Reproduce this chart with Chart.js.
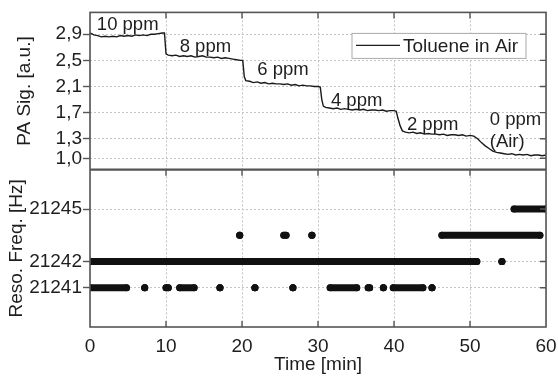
<!DOCTYPE html>
<html>
<head>
<meta charset="utf-8">
<script src="https://cdn.jsdelivr.net/npm/chart.js@4"></script>
<style>
  html, body { margin: 0; padding: 0; background: #fff; }
  #wrap { width: 558px; height: 379px; }
</style>
</head>
<body>
<div id="wrap"><canvas id="chart" width="558" height="379"></canvas></div>
<script>
// PA signal, top panel
const paTime = [
    0, 0.5, 1, 1.5, 2, 2.5, 3, 3.5, 4, 4.5, 5, 5.5, 6, 6.5, 7, 7.5, 8, 8.5, 9, 9.5, 9.8,
    10.0, 10.3, 10.8, 11.3, 11.8, 12.3, 12.8, 13.3, 13.8, 14.3, 14.8, 15.3, 15.8, 16.3, 16.8,
    17.3, 17.8, 18.3, 18.8, 19.3, 19.8, 20.1,
    20.3, 20.5, 21, 21.5, 22, 22.5, 23, 23.5, 24, 24.5, 25, 25.5, 26, 26.5, 27, 27.5, 28,
    28.5, 29, 29.5, 30, 30.3,
    30.5, 30.7, 31, 31.5, 32, 32.5, 33, 33.5, 34, 34.5, 35, 35.5, 36, 36.5, 37, 37.5, 38,
    38.5, 39, 39.5, 40, 40.3,
    40.5, 40.8, 41.1, 41.5, 42, 42.5, 43, 43.5, 44, 44.5, 45, 45.5, 46, 46.5, 47, 47.5, 48,
    48.5, 49, 49.5, 50, 50.5,
    51, 51.5, 52, 52.5, 53, 53.5, 54, 54.5, 55, 55.5, 56, 56.5, 57, 57.5, 58, 58.5, 59, 59.5, 60
];
const paSignal = [
    2.92, 2.89, 2.88, 2.86, 2.87, 2.86, 2.87, 2.86, 2.88, 2.87, 2.88, 2.87, 2.89, 2.88, 2.89, 2.88, 2.90, 2.90, 2.91, 2.92, 2.92,
    2.60, 2.58, 2.57, 2.58, 2.56, 2.57, 2.56, 2.57, 2.55, 2.56, 2.57, 2.55, 2.55, 2.54, 2.55,
    2.53, 2.54, 2.53, 2.52, 2.51, 2.50, 2.50,
    2.25, 2.19, 2.18, 2.16, 2.17, 2.15, 2.16, 2.14, 2.15, 2.14, 2.14, 2.13, 2.14, 2.12, 2.13, 2.11, 2.12,
    2.11, 2.11, 2.10, 2.10, 2.09,
    1.90, 1.80, 1.78, 1.77, 1.76, 1.77, 1.75, 1.76, 1.75, 1.74, 1.75, 1.74, 1.75, 1.73, 1.74, 1.74, 1.73,
    1.74, 1.72, 1.73, 1.73, 1.72,
    1.62, 1.50, 1.42, 1.40, 1.39, 1.40, 1.38, 1.39, 1.37, 1.38, 1.37, 1.37, 1.36, 1.37, 1.35, 1.36, 1.36,
    1.35, 1.36, 1.34, 1.35, 1.34,
    1.30, 1.24, 1.19, 1.15, 1.11, 1.09, 1.08, 1.07, 1.06, 1.07, 1.05, 1.06, 1.05, 1.06, 1.04, 1.05, 1.05, 1.04, 1.05
];
const paTicks = [1.0, 1.3, 1.7, 2.1, 2.5, 2.9];

// Resonance frequency, bottom panel (runs of dots as [from, to] in min)
const freqRows = [' ', '21245', '21243', '21242', '21241', '  '];
const freqShown = ['21245', '21242', '21241'];
const runs21245 = [[55.8, 60]];
const runs21243 = [[19.7, 19.7], [25.5, 25.8], [29.2, 29.2], [46.3, 59.2]];
const runs21242 = [[0, 50.9], [54.2, 54.2]];
const runs21241 = [[0, 4.8], [7.2, 7.2], [10.0, 10.3], [11.8, 13.7], [17.1, 17.1], [21.7, 21.7],
    [26.7, 26.7], [31.6, 35.1], [36.6, 36.8], [38.6, 38.6], [39.9, 43.8], [45.0, 45.0]];

const timeTicks = [0, 10, 20, 30, 40, 50, 60];

// concentration labels inside the top panel
const stepLabels = ['10 ppm', '8 ppm', '6 ppm', '4 ppm', '2 ppm', '0 ppm', '(Air)'];
const stepLabelTime = [0.9, 11.8, 22.0, 31.7, 41.7, 52.6, 52.6];
const stepLabelValue = [2.969, 2.633, 2.282, 1.808, 1.427, 1.503, 1.167];

const FONT = '"Liberation Sans", Arial, sans-serif';
const INK = '#1e1e1e';
const FRAME = '#555';

function runPoints(runs, row) {
    const pts = [];
    runs.forEach(r => {
        pts.push({ x: r[0], y: row }, { x: r[1], y: row }, { x: r[1], y: null });
    });
    return pts;
}

function freqDataset(runs, row) {
    return {
        data: runPoints(runs, row),
        yAxisID: 'yF',
        borderColor: '#111',
        borderWidth: 7,
        borderCapStyle: 'round',
        pointRadius: 3.5,
        pointBorderWidth: 0,
        pointBackgroundColor: '#111',
        spanGaps: false
    };
}

const framePlugin = {
    id: 'frame',
    afterDraw(chart) {
        const { ctx, chartArea: a, scales } = chart;
        const top = scales.yPA, bot = scales.yF, x = scales.x;
        const split = top.bottom;
        ctx.save();
        ctx.strokeStyle = FRAME;
        ctx.lineWidth = 1.6;
        ctx.strokeRect(a.left, a.top, a.right - a.left, a.bottom - a.top);
        ctx.lineWidth = 2.2;
        ctx.beginPath();
        ctx.moveTo(a.left, split);
        ctx.lineTo(a.right, split);
        ctx.stroke();

        // inward tick marks
        ctx.lineWidth = 1.4;
        ctx.beginPath();
        timeTicks.forEach(t => {
            const px = x.getPixelForValue(t);
            if (t === 0 || t === 60) return;
            ctx.moveTo(px, a.top); ctx.lineTo(px, a.top + 6);
            ctx.moveTo(px, split); ctx.lineTo(px, split + 6);
            ctx.moveTo(px, a.bottom); ctx.lineTo(px, a.bottom - 6);
        });
        paTicks.forEach(v => {
            const py = top.getPixelForValue(v);
            ctx.moveTo(a.right, py); ctx.lineTo(a.right - 6, py);
        });
        freqShown.forEach(l => {
            const py = bot.getPixelForValue(freqRows.indexOf(l));
            ctx.moveTo(a.right, py); ctx.lineTo(a.right - 6, py);
        });
        ctx.stroke();

        // legend box
        const lx = a.right - 194, ly = a.top + 21;
        ctx.fillStyle = '#fff';
        ctx.fillRect(lx, ly, 174, 25);
        ctx.strokeStyle = '#aaa';
        ctx.lineWidth = 1;
        ctx.strokeRect(lx, ly, 174, 25);
        ctx.strokeStyle = INK;
        ctx.lineWidth = 1.4;
        ctx.beginPath();
        ctx.moveTo(lx + 4, ly + 12); ctx.lineTo(lx + 48, ly + 12);
        ctx.stroke();
        ctx.fillStyle = INK;
        ctx.font = '19px ' + FONT;
        ctx.textBaseline = 'middle';
        ctx.textAlign = 'left';
        ctx.fillText('Toluene in Air', lx + 51, ly + 13);

        // concentration labels
        ctx.font = '18.5px ' + FONT;
        ctx.textBaseline = 'alphabetic';
        stepLabels.forEach((s, i) => {
            ctx.fillText(s, x.getPixelForValue(stepLabelTime[i]), top.getPixelForValue(stepLabelValue[i]));
        });
        ctx.restore();
    }
};

const leftTicks = {
    color: '#c4c4c4',
    drawTicks: true,
    tickLength: 7,
    tickColor: FRAME,
    tickWidth: 1.4,
    tickBorderDash: []
};

const font19 = { family: FONT, size: 19 };

new Chart(document.getElementById('chart'), {
    type: 'line',
    data: {
        datasets: [
            {
                data: paTime.map((t, i) => ({ x: t, y: paSignal[i] })),
                yAxisID: 'yPA',
                borderColor: '#1a1a1a',
                borderWidth: 1.4,
                pointRadius: 0,
                tension: 0
            },
            freqDataset(runs21245, '21245'),
            freqDataset(runs21243, '21243'),
            freqDataset(runs21242, '21242'),
            freqDataset(runs21241, '21241')
        ]
    },
    options: {
        responsive: false,
        animation: false,
        devicePixelRatio: 1,
        layout: { padding: { top: 10, right: 12, left: 0, bottom: 0 } },
        plugins: { legend: { display: false }, tooltip: { enabled: false } },
        scales: {
            x: {
                type: 'linear',
                min: 0, max: 60,
                afterBuildTicks: s => { s.ticks = timeTicks.map(v => ({ value: v })); },
                afterFit: s => { s.height = 52; s.paddingLeft = 0; s.paddingRight = 0; },
                grid: { color: '#c4c4c4', drawTicks: false },
                border: { display: false, dash: [2, 2] },
                ticks: { color: INK, font: font19, padding: 8, maxRotation: 0 },
                title: { display: true, text: 'Time [min]', color: INK, font: font19, padding: { top: 0, bottom: 3 } }
            },
            yF: {
                type: 'category',
                position: 'left',
                stack: 'panels',
                stackWeight: 1,
                labels: freqRows,
                offset: true,
                afterFit: s => { s.width = 90; },
                grid: Object.assign({}, leftTicks, {
                    color: c => (c.tick && c.tick.label !== '') ? '#c4c4c4' : 'rgba(0,0,0,0)',
                    tickColor: c => (c.tick && c.tick.label !== '') ? FRAME : 'rgba(0,0,0,0)'
                }),
                border: { display: false, dash: [2, 2] },
                ticks: {
                    color: INK, font: font19, padding: 1, autoSkip: false,
                    callback: function (v) {
                        const l = this.getLabelForValue(v);
                        return freqShown.includes(l) ? l : '';
                    }
                },
                title: { display: true, text: 'Reso. Freq. [Hz]', color: INK, font: font19, padding: { top: 5, bottom: 0 } }
            },
            yPA: {
                type: 'linear',
                position: 'left',
                stack: 'panels',
                stackWeight: 1,
                min: 0.825, max: 3.235,
                afterBuildTicks: s => { s.ticks = paTicks.map(v => ({ value: v })); },
                afterFit: s => { s.width = 90; },
                grid: leftTicks,
                border: { display: false, dash: [2, 2] },
                ticks: {
                    color: INK, font: font19, padding: 1, autoSkip: false,
                    callback: v => v.toFixed(1).replace('.', ',')
                },
                title: { display: true, text: 'PA Sig. [a.u.]', color: INK, font: font19, padding: { top: 13, bottom: 0 } }
            }
        }
    },
    plugins: [framePlugin]
});
</script>
</body>
</html>
